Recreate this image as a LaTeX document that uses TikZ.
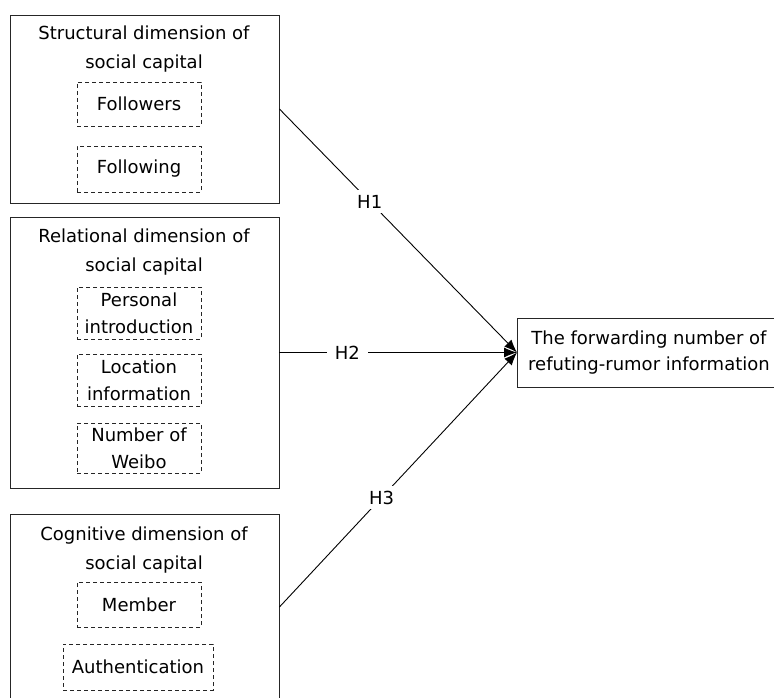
\documentclass[tikz,border=0pt]{standalone}
\usepackage{fontspec}
\setmainfont{DejaVu Sans}
\usetikzlibrary{arrows.meta}
\begin{document}
\begin{tikzpicture}[x=1pt,y=-1pt,
  every node/.style={font=\fontsize{18}{27}\selectfont, inner sep=0pt},
  outer/.style={draw=black!85, line width=0.9pt},
  item/.style={draw=black!85, dash pattern=on 4pt off 3pt, line width=0.9pt, align=center, minimum width=124pt},
  titletext/.style={align=center, font=\fontsize{18}{29}\selectfont},
  link/.style={line width=0.9pt, -{Latex[length=13pt,width=10pt]}},
  hyp/.style={fill=white, inner xsep=8pt, inner ysep=5pt}]
\useasboundingbox (0,0) rectangle (774,698);
% outer boxes
\node[outer, minimum width=269pt, minimum height=188pt] (S) at (144.5,109) {};
\node[outer, minimum width=269pt, minimum height=271pt] (R) at (144.5,352.5) {};
\node[outer, minimum width=269pt, minimum height=186pt] (C) at (144.5,607) {};
% titles
\node[titletext] (St) at (144,49.5) {Structural dimension of\\social capital};
\node[titletext] (Rt) at (144,252.5) {Relational dimension of\\social capital};
\node[titletext] (Ct) at (144,550) {Cognitive dimension of\\social capital};
% items
\node[item, minimum height=44pt] (i1) at (139,104) {Followers};
\node[item, minimum height=46pt] (i2) at (139,169) {Following};
\node[item, minimum height=52pt] (i3) at (139,313) {Personal\\introduction};
\node[item, minimum height=52pt] (i4) at (139,380) {Location\\information};
\node[item, minimum height=50pt] (i5) at (139,448) {Number of\\Weibo};
\node[item, minimum height=45pt] (i6) at (139,604.5) {Member};
\node[item, minimum width=150pt, minimum height=46pt] (i7) at (138,667) {Authentication};
% target
\node[outer, anchor=west, minimum width=263pt, minimum height=69pt, align=center,
  font=\fontsize{18}{26}\selectfont] (T) at (517,352.5) {The forwarding number of\\refuting-rumor information};
% links
\draw[link] (S.east) -- node[hyp, pos=0.38] {H1} (T.west);
\draw[link] (R.east) -- node[hyp, pos=0.286] {H2} (T.west);
\draw[link] (C.east) -- node[hyp, pos=0.43] {H3} (T.west);
\end{tikzpicture}
\end{document}
